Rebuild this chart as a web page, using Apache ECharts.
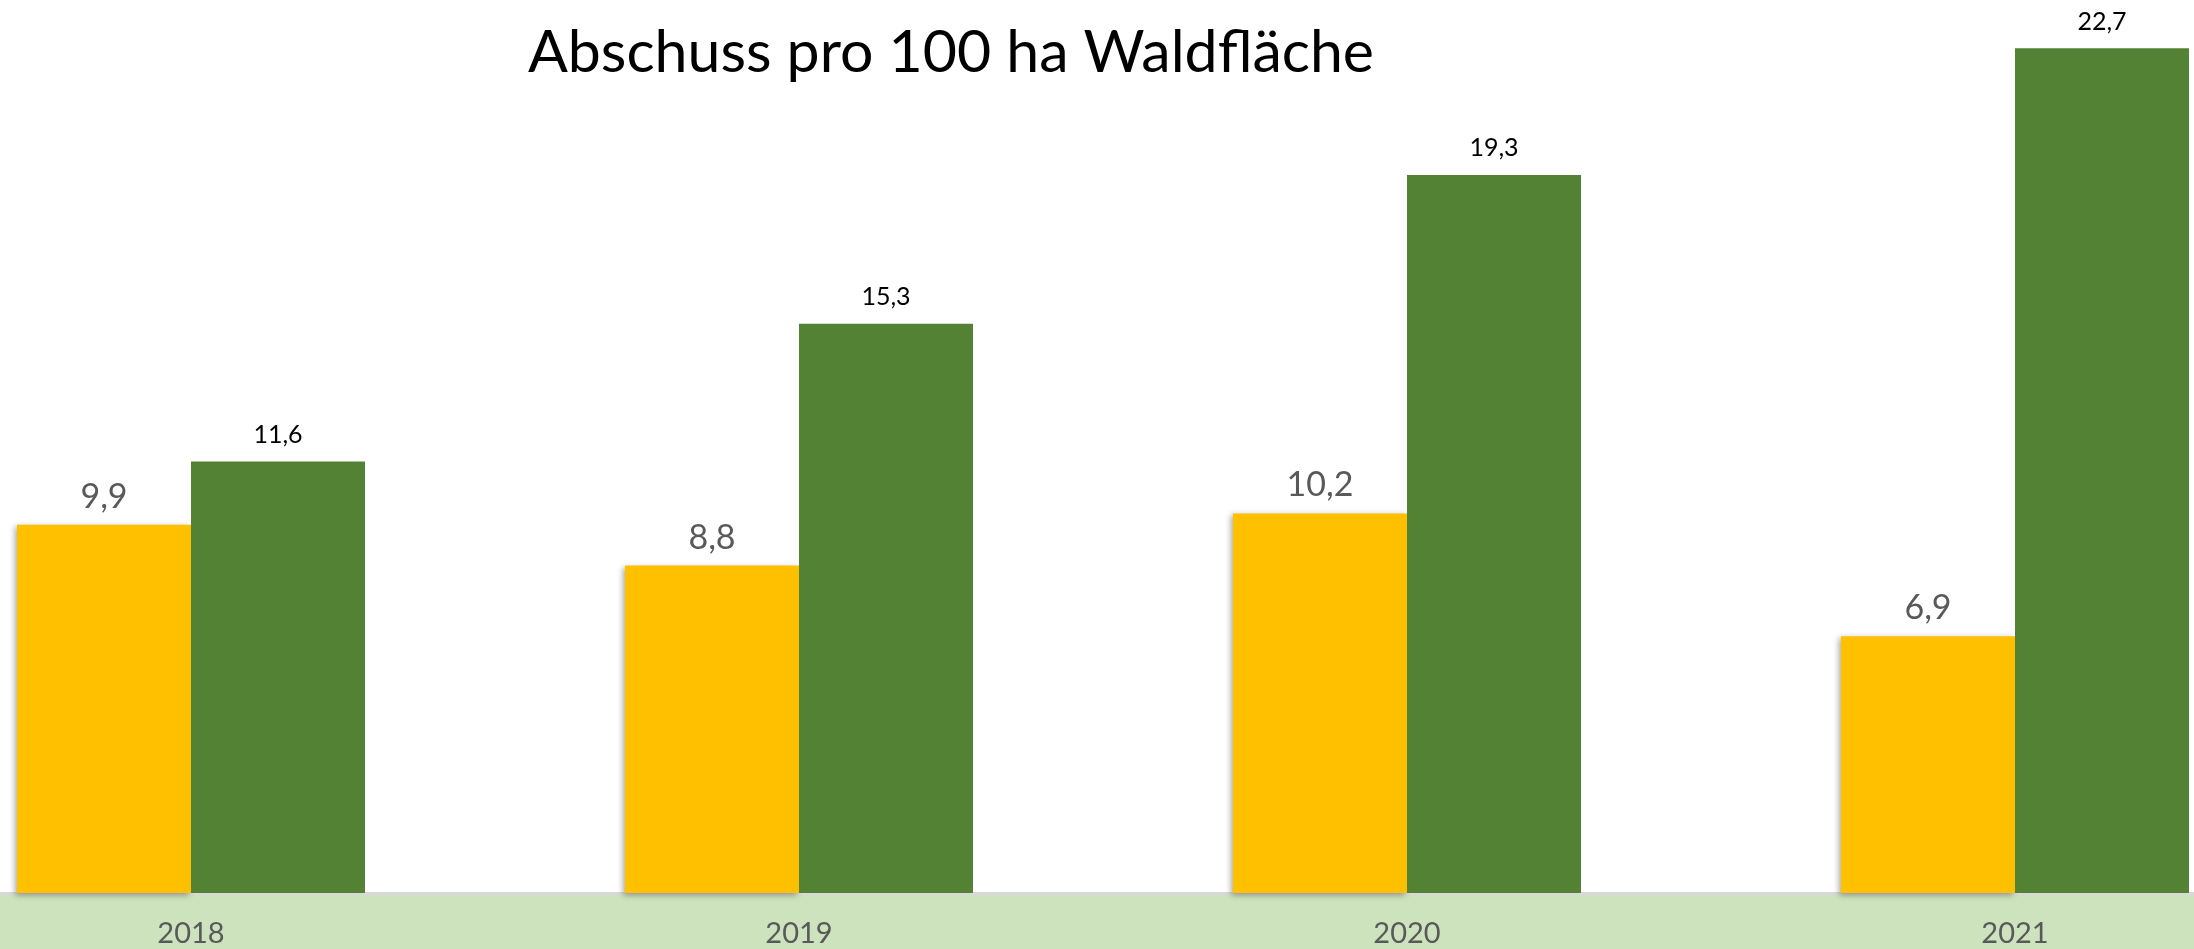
<!DOCTYPE html>
<html>
<head>
<meta charset="utf-8">
<script src="https://cdn.jsdelivr.net/npm/echarts@6/dist/echarts.min.js"></script>
<style>
html,body{margin:0;padding:0;background:#fff;}
#chart{width:2194px;height:949px;}
</style>
</head>
<body>
<div id="chart"></div>
<script>
const titleText = 'Abschuss pro 100 ha Waldfläche';
const categories = ['2018', '2019', '2020', '2021'];
const seriesAName = 'Reh';
const seriesAValues = [9.9, 8.8, 10.2, 6.9];
const seriesBName = 'Schwarzwild';
const seriesBValues = [11.6, 15.3, 19.3, 22.7];

const fmt = v => String(v.value.toFixed(1)).replace('.', ',');
const FONT = 'Lato, "Open Sans", sans-serif';

const chart = echarts.init(document.getElementById('chart'), null, {renderer: 'canvas'});
chart.setOption({
  backgroundColor: '#ffffff',
  animation: false,
  title: {
    text: titleText,
    left: 946,
    textAlign: 'center',
    top: 18,
    textStyle: {fontFamily: FONT, fontSize: 59, fontWeight: 'normal', color: '#000000'}
  },
  graphic: [{
    type: 'rect',
    left: 0, top: 893,
    shape: {width: 2194, height: 56},
    style: {fill: '#CDE3BD'},
    z: -10
  }],
  grid: {left: -113, width: 2432, top: 0, bottom: 56, containLabel: false, outerBoundsMode: 'none'},
  xAxis: {
    type: 'category',
    data: categories,
    axisTick: {show: false},
    axisLine: {show: true, lineStyle: {color: '#D9D9D9', width: 3}},
    axisLabel: {color: '#595959', fontSize: 29, fontFamily: FONT, margin: 26}
  },
  yAxis: {
    type: 'value', min: 0, max: 24,
    show: false,
    splitLine: {show: false}
  },
  series: [{
    name: seriesAName,
    type: 'bar',
    data: seriesAValues,
    barWidth: 174,
    barGap: '0%',
    itemStyle: {color: '#FFC000', shadowColor: 'rgba(0,0,0,0.35)', shadowBlur: 6, shadowOffsetX: -2, shadowOffsetY: 2},
    label: {show: true, position: 'top', distance: 11, formatter: fmt, color: '#595959', fontSize: 34, fontFamily: FONT}
  }, {
    name: seriesBName,
    type: 'bar',
    data: seriesBValues,
    barWidth: 174,
    barGap: '0%',
    itemStyle: {color: '#548235'},
    label: {show: true, position: 'top', distance: 14, formatter: fmt, color: '#000000', fontSize: 25, fontFamily: FONT}
  }]
});
</script>
</body>
</html>
